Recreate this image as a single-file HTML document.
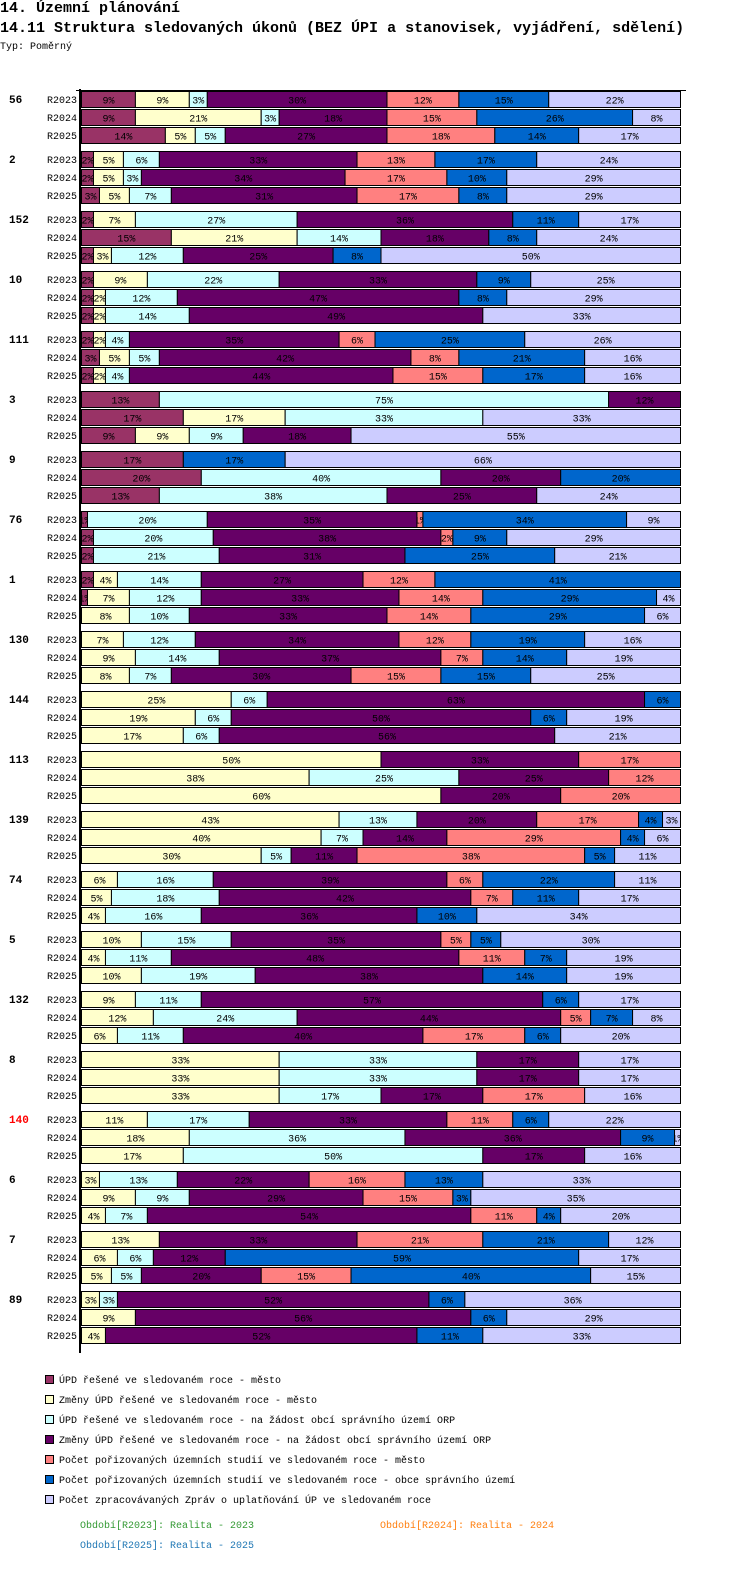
<!DOCTYPE html>
<html><head><meta charset="utf-8">
<style>
body{margin:0;background:#fff;width:750px;height:1582px;overflow:hidden;font-family:"Liberation Mono","DejaVu Sans Mono",monospace;}
#t1{position:absolute;left:0;top:0;font-size:15px;font-weight:bold;line-height:18px;}
#t2{position:absolute;left:0;top:20px;font-size:15px;font-weight:bold;line-height:18px;}
#t3{position:absolute;left:0;top:42px;font-size:10px;line-height:12px;}
svg{position:absolute;left:0;top:0;}
</style></head><body>
<div id="t1">14. Územní plánování</div>
<div id="t2">14.11 Struktura sledovaných úkonů (BEZ ÚPI a stanovisek, vyjádření, sdělení)</div>
<div id="t3">Typ: Poměrný</div>
<svg id="chart" width="750" height="1582"></svg>
<script>
const groups = ["56","2","152","10","111","3","9","76","1","130","144","113","139","74","5","132","8","140","6","7","89"];
const periods = ["R2023","R2024","R2025"];
const seriesNames = [
"ÚPD řešené ve sledovaném roce - město",
"Změny ÚPD řešené ve sledovaném roce - město",
"ÚPD řešené ve sledovaném roce - na žádost obcí správního území ORP",
"Změny ÚPD řešené ve sledovaném roce - na žádost obcí správního území ORP",
"Počet pořizovaných územních studií ve sledovaném roce - město",
"Počet pořizovaných územních studií ve sledovaném roce - obce správního území",
"Počet zpracovávaných Zpráv o uplatňování ÚP ve sledovaném roce"];
const colors = ["#993366","#FFFFCC","#CCFFFF","#660066","#FF8080","#0066CC","#CCCCFF"];
const vals56 = [[9,9,3,30,12,15,22],[9,21,3,18,15,26,8],[14,5,5,27,18,14,17]];
const vals2 = [[2,5,6,33,13,17,24],[2,5,3,34,17,10,29],[3,5,7,31,17,8,29]];
const vals152 = [[2,7,27,36,0,11,17],[15,21,14,18,0,8,24],[2,3,12,25,0,8,50]];
const vals10 = [[2,9,22,33,0,9,25],[2,2,12,47,0,8,29],[2,2,14,49,0,0,33]];
const vals111 = [[2,2,4,35,6,25,26],[3,5,5,42,8,21,16],[2,2,4,44,15,17,16]];
const vals3 = [[13,0,75,12,0,0,0],[17,17,33,0,0,0,33],[9,9,9,18,0,0,55]];
const vals9 = [[17,0,0,0,0,17,66],[20,0,40,20,0,20,0],[13,0,38,25,0,0,24]];
const vals76 = [[1,0,20,35,1,34,9],[2,0,20,38,2,9,29],[2,0,21,31,0,25,21]];
const vals1 = [[2,4,14,27,12,41,0],[1,7,12,33,14,29,4],[0,8,10,33,14,29,6]];
const vals130 = [[0,7,12,34,12,19,16],[0,9,14,37,7,14,19],[0,8,7,30,15,15,25]];
const vals144 = [[0,25,6,63,0,6,0],[0,19,6,50,0,6,19],[0,17,6,56,0,0,21]];
const vals113 = [[0,50,0,33,17,0,0],[0,38,25,25,12,0,0],[0,60,0,20,20,0,0]];
const vals139 = [[0,43,13,20,17,4,3],[0,40,7,14,29,4,6],[0,30,5,11,38,5,11]];
const vals74 = [[0,6,16,39,6,22,11],[0,5,18,42,7,11,17],[0,4,16,36,0,10,34]];
const vals5 = [[0,10,15,35,5,5,30],[0,4,11,48,11,7,19],[0,10,19,38,0,14,19]];
const vals132 = [[0,9,11,57,0,6,17],[0,12,24,44,5,7,8],[0,6,11,40,17,6,20]];
const vals8 = [[0,33,33,17,0,0,17],[0,33,33,17,0,0,17],[0,33,17,17,17,0,16]];
const vals140 = [[0,11,17,33,11,6,22],[0,18,36,36,0,9,1],[0,17,50,17,0,0,16]];
const vals6 = [[0,3,13,22,16,13,33],[0,9,9,29,15,3,35],[0,4,7,54,11,4,20]];
const vals7 = [[0,13,0,33,21,21,12],[0,6,6,12,0,59,17],[0,5,5,20,15,40,15]];
const vals89 = [[0,3,3,52,0,6,36],[0,9,0,56,0,6,29],[0,4,0,52,0,11,33]];
const allVals = [vals56,vals2,vals152,vals10,vals111,vals3,vals9,vals76,vals1,vals130,vals144,vals113,vals139,vals74,vals5,vals132,vals8,vals140,vals6,vals7,vals89];

const NS="http://www.w3.org/2000/svg";
const svg=document.getElementById('chart');
function mk(tag,attrs,parent){const e=document.createElementNS(NS,tag);for(const k in attrs)e.setAttribute(k,attrs[k]);(parent||svg).appendChild(e);return e;}
const X0=81, W=599;
function xScale(frac){return X0+frac*W;}
function rowTop(g,k){return 91+g*60+k*18;}

groups.forEach((gname,g)=>{
  const gl=mk('text',{x:9,y:rowTop(g,0)+12,'font-size':11,'font-weight':'bold','font-family':'Liberation Mono, monospace',fill:gname==="140"?"#ff0000":"#000"});
  
  
  gl.textContent=gname;
  periods.forEach((p,k)=>{
    const y=rowTop(g,k);
    const pl=mk('text',{x:77,y:y+12,'font-size':10,'text-anchor':'end','font-family':'Liberation Mono, monospace'});
    
    
    pl.textContent=p;
    const row=allVals[g][k];
    const sum=row.reduce((a,b)=>a+b,0);
    let acc=0;
    row.forEach((v,s)=>{
      if(!v)return;
      const xa=xScale(acc/sum), xb=xScale((acc+v)/sum);
      acc+=v;
      const r=mk('rect',{x:xa+0.5,y:y+0.5,width:Math.max(xb-xa,1),height:16,fill:colors[s],stroke:'#000','stroke-width':1});
      
      
      const cid='c'+g+'_'+k+'_'+s;
      const cp=mk('clipPath',{id:cid});
      mk('rect',{x:xa+1,y:y,width:Math.max(xb-xa-1,0),height:17},cp);
      const t=mk('text',{x:(xa+xb)/2+0.5,y:y+12.5,'font-size':10,'text-anchor':'middle','font-family':'Liberation Mono, monospace','clip-path':'url(#'+cid+')'});
      
      
      t.textContent=v+'%';
    });
  });
});
const axisLine=mk('line',{x1:80,y1:89,x2:80,y2:1353,stroke:'#000','stroke-width':2});


const topLine=mk('line',{x1:76,y1:90.5,x2:686,y2:90.5,stroke:'#000','stroke-width':1});



seriesNames.forEach((n,i)=>{
  const y=1375+i*20;
  const sq=mk('rect',{x:45.5,y:y+0.5,width:8,height:8,fill:colors[i],stroke:'#000','stroke-width':1});
  
  
  const t=mk('text',{x:59,y:y+8,'font-size':10,'font-family':'Liberation Mono, monospace'});
  
  
  t.textContent=n;
});
const foot=[["Období[R2023]: Realita - 2023",80,1528,"#339933"],["Období[R2024]: Realita - 2024",380,1528,"#ff7f0e"],["Období[R2025]: Realita - 2025",80,1548,"#1f77b4"]];
foot.forEach(f=>{
  const t=mk('text',{x:f[1],y:f[2],'font-size':10,fill:f[3],'font-family':'Liberation Mono, monospace'});
  
  
  t.textContent=f[0];
});
</script>
</body></html>
